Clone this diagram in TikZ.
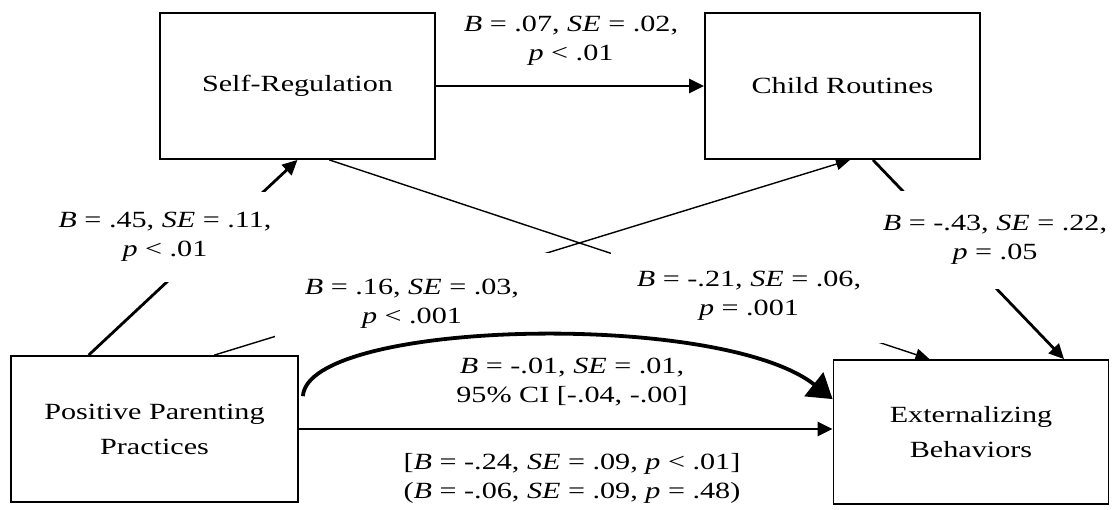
\documentclass[tikz,border=0pt]{standalone}
\usepackage{fontspec}
\setmainfont{Liberation Serif}[FakeStretch=1.3]
\usetikzlibrary{calc, arrows.meta}

\begin{document}
\begin{tikzpicture}[
			x=0.5pt, y=-0.5pt,
			font=\fontsize{11.6}{14.5}\selectfont,
			% Node styles
			varBox/.style={draw=black, line width=0.9pt, minimum width=137.5pt, minimum height=73pt, align=center, inner sep=0pt, font=\fontsize{11.6}{17.5}\selectfont},
			coefLabel/.style={align=center, inner sep=0pt},
			gapLabel/.style={align=center, fill=white, inner xsep=3pt, inner ysep=11pt},
			% Line styles
			thinPath/.style={line width=0.7pt, -{Triangle[length=7pt, width=6pt]}},
			thickPath/.style={line width=1.4pt, -{Triangle[length=7.5pt, width=7pt]}},
			curvePath/.style={line width=1.9pt, -{Triangle[length=12pt, width=15pt]}}
			]
			
			\useasboundingbox (0,0) rectangle (1112,509);
			
			% =========================================================
			% 1. THE FOUR VARIABLES
			% =========================================================
			
			\node[varBox] (selfReg) at (297.5,86) {Self-Regulation};
			\node[varBox] (routines) at (842.5,86) {Child Routines};
			\node[varBox, minimum width=143.5pt] (parenting) at (154.5,429) {Positive Parenting\\Practices};
			\node[varBox, minimum height=72pt] (external) at (971,432) {Externalizing\\Behaviors};
			
			% Anchor points on the box edges
			\coordinate (parTopA) at ($(parenting.north west)!0.272!(parenting.north east)$);
			\coordinate (parTopB) at ($(parenting.north west)!0.707!(parenting.north east)$);
			\coordinate (srBotB) at ($(selfReg.south west)!0.615!(selfReg.south east)$);
			\coordinate (crBotA) at ($(routines.south west)!0.527!(routines.south east)$);
			\coordinate (crBotB) at ($(routines.south west)!0.61!(routines.south east)$);
			\coordinate (exTopA) at ($(external.north west)!0.35!(external.north east)$);
			\coordinate (exTopB) at ($(external.north west)!0.836!(external.north east)$);
			
			% =========================================================
			% 2. PATHS (straight)
			% =========================================================
			
			\draw[thickPath] (parTopA) -- (selfReg.south);
			\draw[thickPath] (selfReg.east) -- (routines.west);
			\draw[thinPath] (srBotB) -- (exTopA);
			\draw[thinPath] (parTopB) -- (crBotA);
			\draw[thickPath] (crBotB) -- (exTopB);
			\draw[thickPath] (parenting.east) -- (parenting.east -| external.west);
			
			% Coefficients (white boxes break the lines)
			\node[gapLabel, inner ysep=10pt] (labA) at (165,237) {\textit{B} = .45, \textit{SE} = .11,\\\textit{p} < .01};
			\node[coefLabel] (labB) at (571,41) {\textit{B} = .07, \textit{SE} = .02,\\\textit{p} < .01};
			\node[gapLabel, inner xsep=13pt] (labC) at (749,296) {\textit{B} = -.21, \textit{SE} = .06,\\\textit{p} = .001};
			\node[gapLabel, inner xsep=15pt, inner ysep=13pt] (labD) at (412,304) {\textit{B} = .16, \textit{SE} = .03,\\\textit{p} < .001};
			\node[gapLabel, inner ysep=12pt] (labE) at (995,240) {\textit{B} = -.43, \textit{SE} = .22,\\\textit{p} = .05};
			\node[coefLabel] (labF) at (572,478) {[\textit{B} = -.24, \textit{SE} = .09, \textit{p} < .01]\\(\textit{B} = -.06, \textit{SE} = .09, \textit{p} = .48)};
			
			% =========================================================
			% 3. INDIRECT EFFECT (curved)
			% =========================================================
			
			\coordinate (curveStart) at ($(parenting.north east)+(4,41)$);
			\coordinate (curveEnd) at ($(external.north west)+(0,40)$);
			\draw[curvePath] (curveStart) .. controls (308,320) and (720,310) .. (curveEnd);
			\node[coefLabel] (labG) at (572,382) {\textit{B} = -.01, \textit{SE} = .01,\\95\% CI [-.04, -.00]};
			
		\end{tikzpicture}
\end{document}
